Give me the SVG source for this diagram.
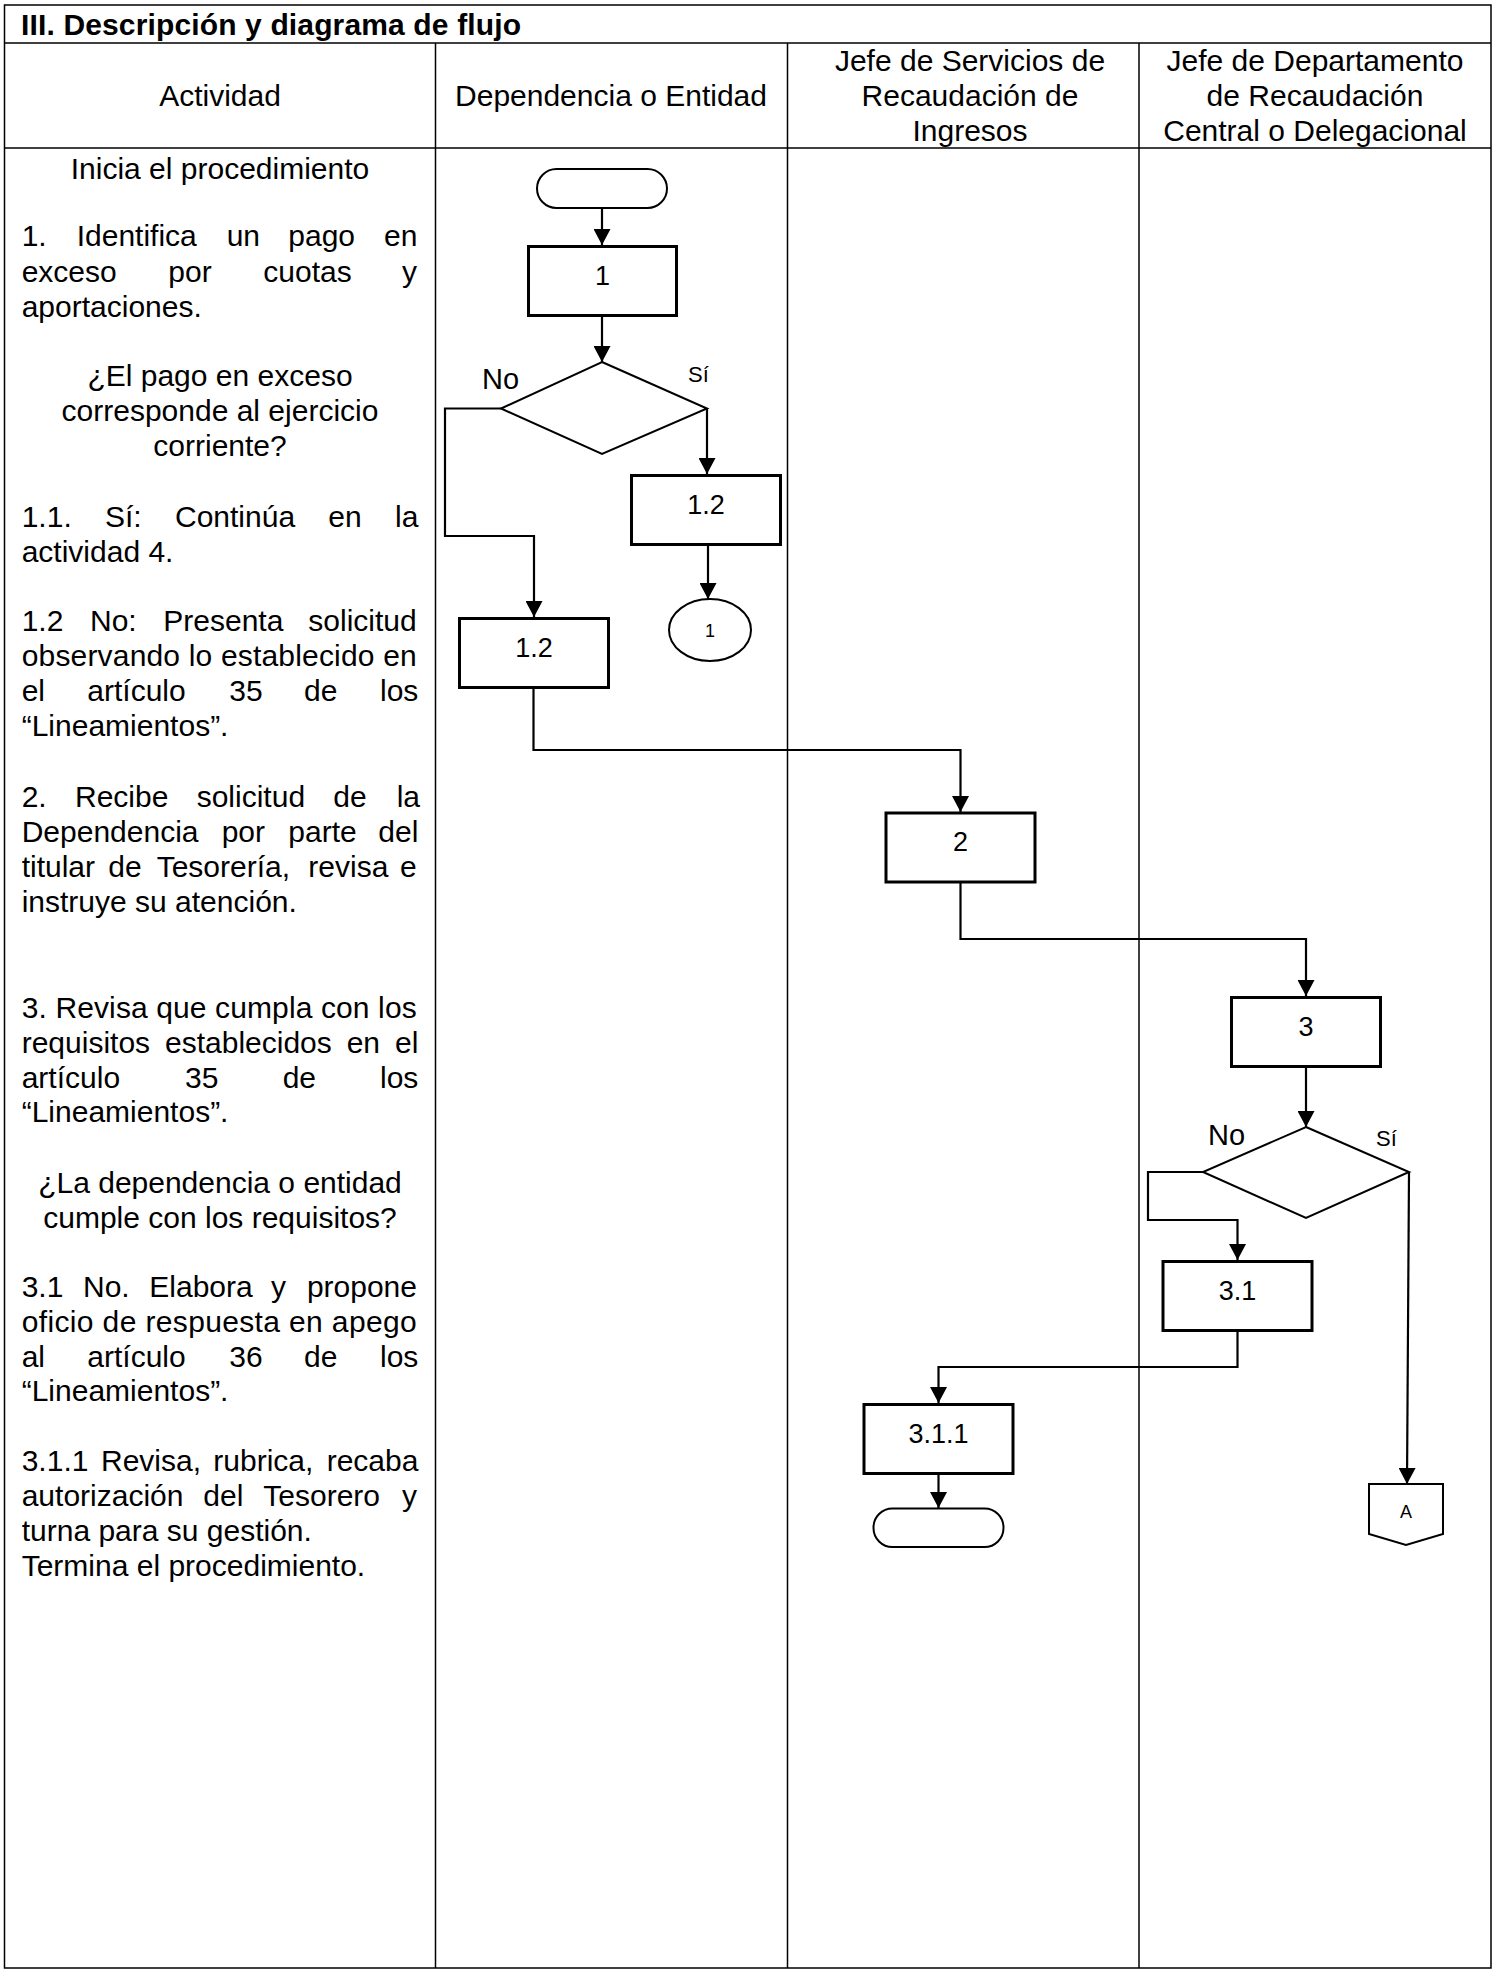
<svg xmlns="http://www.w3.org/2000/svg" width="1497" height="1975" viewBox="0 0 1497 1975">
<style>
text{font-family:"Liberation Sans",Arial,sans-serif;fill:#000}
.t{font-size:30px}
.c{text-anchor:middle}
.e{text-anchor:end}
.b{font-size:27px;text-anchor:middle}
.grid{stroke:#000;stroke-width:1.5;fill:none}
.box{fill:#fff;stroke:#000;stroke-width:3}
.sh{fill:#fff;stroke:#000;stroke-width:2}
.con{fill:none;stroke:#000;stroke-width:2.2;marker-end:url(#arr)}
</style>
<defs>
<marker id="arr" viewBox="0 0 16 17" refX="16" refY="8.5" markerWidth="16" markerHeight="17" markerUnits="userSpaceOnUse" orient="auto">
<path d="M0,0 L16,8.5 L0,17 z" fill="#000"/>
</marker>
</defs>
<rect width="1497" height="1975" fill="#fff"/>
<g id="table">
<rect class="grid" x="4.5" y="5" width="1486.5" height="1963"/>
<line class="grid" x1="4.5" y1="43" x2="1491" y2="43"/>
<line class="grid" x1="4.5" y1="148" x2="1491" y2="148" stroke-width="2"/>
<line class="grid" x1="435.5" y1="43" x2="435.5" y2="1968"/>
<line class="grid" x1="787.5" y1="43" x2="787.5" y2="1968"/>
<line class="grid" x1="1139" y1="43" x2="1139" y2="1968"/>
<text x="21" y="35" textLength="500" lengthAdjust="spacing" style="font-size:30px;font-weight:bold">III. Descripción y diagrama de flujo</text>
<text class="t c" x="220" y="106">Actividad</text>
<text class="t c" x="611" y="106">Dependencia o Entidad</text>
<text class="t c" x="970" y="71">Jefe de Servicios de</text>
<text class="t c" x="970" y="106">Recaudación de</text>
<text class="t c" x="970" y="141">Ingresos</text>
<text class="t c" x="1315" y="71">Jefe de Departamento</text>
<text class="t c" x="1315" y="106">de Recaudación</text>
<text class="t c" x="1315" y="141">Central o Delegacional</text>
</g>
<g id="actividades" class="t">
<text class="t c" x="220" y="179">Inicia el procedimiento</text>
<text class="t" y="246"><tspan x="21.7">1.</tspan><tspan x="76.7">Identifica</tspan><tspan x="226.7">un</tspan><tspan x="288.3">pago</tspan><tspan x="384">en</tspan></text>
<text class="t" y="282"><tspan x="21.7">exceso</tspan><tspan x="168.3">por</tspan><tspan x="263.3">cuotas</tspan><tspan x="402">y</tspan></text>
<text class="t" x="21.7" y="316.5">aportaciones.</text>
<text class="t c" x="220" y="385.5">¿El pago en exceso</text>
<text class="t c" x="220" y="420.5">corresponde al ejercicio</text>
<text class="t c" x="220" y="455.5">corriente?</text>
<text class="t" y="527"><tspan x="21.7">1.1.</tspan><tspan x="105">Sí:</tspan><tspan x="175">Continúa</tspan><tspan x="328.3">en</tspan><tspan x="395">la</tspan></text>
<text class="t" x="21.7" y="561.5">actividad 4.</text>
<text class="t" y="631"><tspan x="21.7">1.2</tspan><tspan x="90">No:</tspan><tspan x="163.3">Presenta</tspan><tspan x="308.3">solicitud</tspan></text>
<text class="t" x="21.7" y="666" textLength="395" lengthAdjust="spacing">observando lo establecido en</text>
<text class="t" y="701"><tspan x="21.7">el</tspan><tspan x="87.3">artículo</tspan><tspan x="229.3">35</tspan><tspan x="304">de</tspan><tspan x="380">los</tspan></text>
<text class="t" x="21.7" y="736">“Lineamientos”.</text>
<text class="t" y="807"><tspan x="21.7">2.</tspan><tspan x="75">Recibe</tspan><tspan x="196.7">solicitud</tspan><tspan x="333.3">de</tspan><tspan x="396.7">la</tspan></text>
<text class="t" y="842"><tspan x="21.7">Dependencia</tspan><tspan x="221.7">por</tspan><tspan x="288.3">parte</tspan><tspan x="378.3">del</tspan></text>
<text class="t" y="877"><tspan x="21.7">titular</tspan><tspan x="108.3">de</tspan><tspan x="156.7">Tesorería,</tspan><tspan x="308.3">revisa</tspan><tspan x="400">e</tspan></text>
<text class="t" x="21.7" y="912">instruye su atención.</text>
<text class="t" x="21.7" y="1018" textLength="395" lengthAdjust="spacing">3. Revisa que cumpla con los</text>
<text class="t" y="1053"><tspan x="21.7">requisitos</tspan><tspan x="165">establecidos</tspan><tspan x="346.7">en</tspan><tspan x="395">el</tspan></text>
<text class="t" y="1088"><tspan x="21.7">artículo</tspan><tspan x="185">35</tspan><tspan x="282.7">de</tspan><tspan x="380">los</tspan></text>
<text class="t" x="21.7" y="1122">“Lineamientos”.</text>
<text class="t c" x="220" y="1193">¿La dependencia o entidad</text>
<text class="t c" x="220" y="1228">cumple con los requisitos?</text>
<text class="t" y="1297"><tspan x="21.7">3.1</tspan><tspan x="83">No.</tspan><tspan x="149.3">Elabora</tspan><tspan x="271">y</tspan><tspan x="306.9">propone</tspan></text>
<text class="t" x="21.7" y="1332" textLength="395" lengthAdjust="spacing">oficio de respuesta en apego</text>
<text class="t" y="1366.5"><tspan x="21.7">al</tspan><tspan x="87.3">artículo</tspan><tspan x="229.3">36</tspan><tspan x="304">de</tspan><tspan x="380">los</tspan></text>
<text class="t" x="21.7" y="1401">“Lineamientos”.</text>
<text class="t" y="1471"><tspan x="21.7">3.1.1</tspan><tspan x="101">Revisa,</tspan><tspan x="213.3">rubrica,</tspan><tspan x="326.7">recaba</tspan></text>
<text class="t" y="1506"><tspan x="21.7">autorización</tspan><tspan x="203.3">del</tspan><tspan x="263.3">Tesorero</tspan><tspan x="402">y</tspan></text>
<text class="t" x="21.7" y="1541">turna para su gestión.</text>
<text class="t" x="21.7" y="1576">Termina el procedimiento.</text>
</g>
<g id="connectors">
<path class="con" d="M602,208 V245"/>
<path class="con" d="M602,317 V362"/>
<path class="con" d="M707,408.5 V474"/>
<path class="con" d="M708,546 V599"/>
<path class="con" d="M501,408.5 H445 V536 H534 V617"/>
<path class="con" d="M533.5,688 V750 H960.5 V812"/>
<path class="con" d="M960.5,882 V939 H1306 V996"/>
<path class="con" d="M1306,1067 V1127"/>
<path class="con" d="M1203,1172 H1148 V1220 H1237.5 V1260"/>
<path class="con" d="M1237.5,1330 V1367 H938.5 V1403"/>
<path class="con" d="M938.5,1474 V1508"/>
<path class="con" d="M1409,1172 L1407,1484"/>
<text x="482" y="388.5" style="font-size:29px">No</text>
<text x="688" y="382" style="font-size:22px">Sí</text>
<text x="1208" y="1145" style="font-size:29px">No</text>
<text x="1376" y="1146" style="font-size:22px">Sí</text>
</g>
<g id="inicio"><rect class="sh" x="537" y="169" width="130" height="39" rx="19.5"/></g>
<g id="n1"><rect class="box" x="528.5" y="246.5" width="148" height="69"/><text class="b" x="602.5" y="285">1</text></g>
<g id="d1"><polygon class="sh" points="602,362 707,408.5 602,454 501,408.5"/></g>
<g id="n12si"><rect class="box" x="631.5" y="475.5" width="149" height="69"/><text class="b" x="706" y="513.5">1.2</text></g>
<g id="c1"><ellipse class="sh" cx="710" cy="630" rx="41" ry="31"/><text x="710" y="637" class="c" style="font-size:18px">1</text></g>
<g id="n12no"><rect class="box" x="459.5" y="618.5" width="149" height="69"/><text class="b" x="534" y="656.5">1.2</text></g>
<g id="n2"><rect class="box" x="886" y="813" width="149" height="69"/><text class="b" x="960.5" y="851">2</text></g>
<g id="n3"><rect class="box" x="1231.5" y="997.5" width="149" height="69"/><text class="b" x="1306" y="1035.5">3</text></g>
<g id="d2"><polygon class="sh" points="1306,1127 1409,1172 1306,1218 1203,1172"/></g>
<g id="n31"><rect class="box" x="1163" y="1261.5" width="149" height="69"/><text class="b" x="1237.5" y="1299.5">3.1</text></g>
<g id="n311"><rect class="box" x="864" y="1404.5" width="149" height="69"/><text class="b" x="938.5" y="1442.5">3.1.1</text></g>
<g id="fin"><rect class="sh" x="873.5" y="1508.5" width="130" height="38.5" rx="19"/></g>
<g id="conA"><polygon class="sh" points="1369,1484 1443,1484 1443,1534 1406,1545 1369,1534"/><text x="1406" y="1518" class="c" style="font-size:18px">A</text></g>
</svg>
